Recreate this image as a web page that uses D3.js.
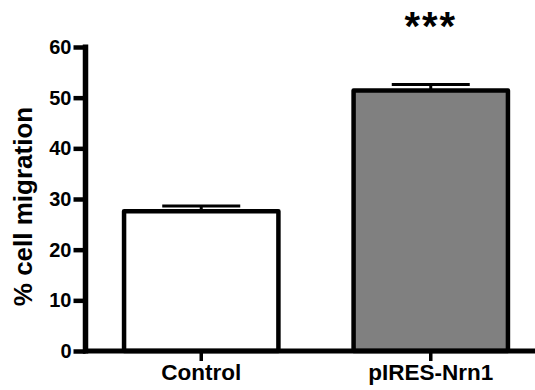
<!DOCTYPE html>
<html>
<head>
<meta charset="utf-8">
<script src="https://cdn.jsdelivr.net/npm/d3@7/dist/d3.min.js"></script>
<style>
  html, body { margin: 0; padding: 0; background: #fff; }
  svg { display: block; }
  text { font-family: Arial, "Liberation Sans", Helvetica, sans-serif; font-weight: bold; fill: #000; }
</style>
</head>
<body>
<svg id="chart" width="535" height="390"></svg>
<script>
// Cell migration per condition (mean ± SEM)
const categories = ["Control", "pIRES-Nrn1"];
const means = [27.6, 51.4];
const errors = [1.0, 1.2];
const fills = ["#ffffff", "#808080"];
const significance = ["", "***"];
const yTicks = [0, 10, 20, 30, 40, 50, 60];
const yLabel = "% cell migration";

const svg = d3.select("#chart");
const plotLeft = 85.5, plotTop = 47, plotBottom = 351, plotRight = 546.5;

const y = d3.scaleLinear().domain([0, 60]).range([plotBottom, plotTop]);
const x = d3.scaleBand().domain(categories).range([plotLeft, plotRight])
  .paddingInner(0.3275).paddingOuter(0.168);

// Bars
svg.append("g").selectAll("rect").data(categories).join("rect")
  .attr("x", d => x(d))
  .attr("y", (d, i) => y(means[i]))
  .attr("width", x.bandwidth())
  .attr("height", (d, i) => y(0) - y(means[i]))
  .attr("fill", (d, i) => fills[i])
  .style("stroke", "#000")
  .style("stroke-width", 4.5)
  .style("stroke-linejoin", "round");

// Error bars (upper only)
const capHalf = 39;
const eb = svg.append("g").style("stroke", "#000").style("stroke-width", 3);
categories.forEach((c, i) => {
  const cx = x(c) + x.bandwidth() / 2;
  eb.append("line").attr("x1", cx).attr("x2", cx)
    .attr("y1", y(means[i])).attr("y2", y(means[i] + errors[i]));
  eb.append("line").attr("x1", cx - capHalf).attr("x2", cx + capHalf)
    .attr("y1", y(means[i] + errors[i])).attr("y2", y(means[i] + errors[i]));
});

// Y axis
const yAxis = svg.append("g").attr("transform", `translate(${plotLeft},0)`)
  .call(d3.axisLeft(y).tickValues(yTicks).tickSize(12).tickSizeOuter(0).tickPadding(2));
yAxis.select(".domain")
  .attr("d", `M0,${plotTop - 2.5}V${plotBottom + 2.5}`)
  .style("stroke-width", 5.5);
yAxis.selectAll(".tick line").style("stroke-width", 4.5);
yAxis.selectAll(".tick text").attr("font-size", 20).attr("font-family", null);

// X axis
const xAxis = svg.append("g").attr("transform", `translate(0,${plotBottom})`)
  .call(d3.axisBottom(x).tickSize(10).tickSizeOuter(0).tickPadding(3));
xAxis.select(".domain")
  .attr("d", `M${plotLeft - 2.5},0H${plotRight}`)
  .style("stroke-width", 5);
xAxis.selectAll(".tick line").style("stroke-width", 3.5);
xAxis.selectAll(".tick text").attr("font-size", 22.5).attr("font-family", null);

// Y axis title
svg.append("text")
  .attr("transform", `translate(32,${(100 + 313) / 2}) rotate(-90)`)
  .attr("text-anchor", "middle")
  .attr("font-size", 26)
  .text(yLabel);

// Significance markers
svg.append("g").selectAll("text").data(categories).join("text")
  .attr("x", d => x(d) + x.bandwidth() / 2)
  .attr("y", 40)
  .attr("text-anchor", "middle")
  .attr("font-size", 40)
  .attr("letter-spacing", 2)
  .text((d, i) => significance[i]);
</script>
</body>
</html>
